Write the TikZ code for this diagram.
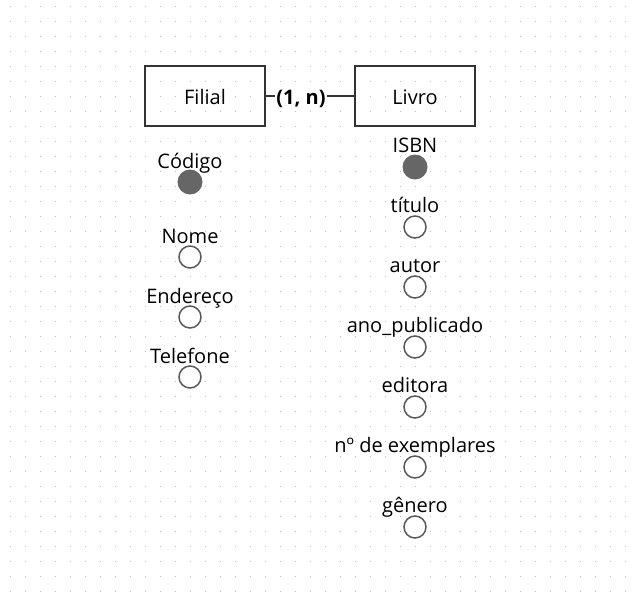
\documentclass[tikz,border=0pt]{standalone}
\usepackage{fontspec}
\setmainfont{Open Sans}
\definecolor{boxline}{HTML}{333333}
\definecolor{circline}{HTML}{5A5A5A}
\definecolor{keyfill}{HTML}{666666}
\definecolor{griddot}{HTML}{BDBDBD}
\begin{document}
\begin{tikzpicture}[x=1pt,y=-1pt,
  entity/.style={draw=boxline,line width=2pt,minimum width=120pt,minimum height=60pt,inner sep=0pt,font=\fontsize{20}{24}\selectfont},
  attr/.style={circle,draw=circline,line width=1.5pt,minimum size=22pt,inner sep=0pt,fill=white},
  keyattr/.style={circle,fill=keyfill,minimum size=25pt,inner sep=0pt},
  attrlabel/.style={anchor=base,inner sep=0pt,font=\fontsize{20}{24}\selectfont},
  card/.style={fill=white,inner sep=1pt,font=\bfseries\fontsize{20}{24}\selectfont}]
\useasboundingbox (0,0) rectangle (640,592);
\fill[white] (0,0) rectangle (640,592);
\foreach \i in {0,...,41}{
  \foreach \j in {0,...,39}{
    \fill[griddot] (10.5+15*\i-0.9,6.5+15*\j-0.9) rectangle ++(1.8,1.8);
  }
}
% entities
\node[entity] (filial) at (205,96) {};
\node[anchor=base,inner sep=0pt,font=\fontsize{20}{24}\selectfont] (filialtxt) at (205,104.3) {Filial};
\node[entity] (livro) at (415,96) {};
\node[anchor=base,inner sep=0pt,font=\fontsize{20}{24}\selectfont] (livrotxt) at (415,104.3) {Livro};
\draw[boxline,line width=1.5pt] (filial.east) -- (livro.west);
\node[card,anchor=base] (cardlbl) at (301,104) {(1, n)};
% Filial attributes
\node[attrlabel] (lcod) at (190,168) {Código};
\node[keyattr] (ccod) at (190,182) {};
\node[attrlabel] (lnome) at (190,243) {Nome};
\node[attr] (cnome) at (190,257) {};
\node[attrlabel] (lend) at (190,303) {Endereço};
\node[attr] (cend) at (190,317) {};
\node[attrlabel] (ltel) at (190,363) {Telefone};
\node[attr] (ctel) at (190,377) {};
% Livro attributes
\node[attrlabel] (lisbn) at (415,152) {ISBN};
\node[keyattr] (cisbn) at (415,167) {};
\node[attrlabel] (ltit) at (415,212.5) {título};
\node[attr] (ctit) at (415,227) {};
\node[attrlabel] (laut) at (415,272.5) {autor};
\node[attr] (caut) at (415,287) {};
\node[attrlabel] (lano) at (415,332.5) {ano\_publicado};
\node[attr] (cano) at (415,347) {};
\node[attrlabel] (ledi) at (415,392.5) {editora};
\node[attr] (cedi) at (415,407) {};
\node[attrlabel] (lnum) at (415,452.5) {nº de exemplares};
\node[attr] (cnum) at (415,467) {};
\node[attrlabel] (lgen) at (415,512.5) {gênero};
\node[attr] (cgen) at (415,527) {};
\end{tikzpicture}
\end{document}
